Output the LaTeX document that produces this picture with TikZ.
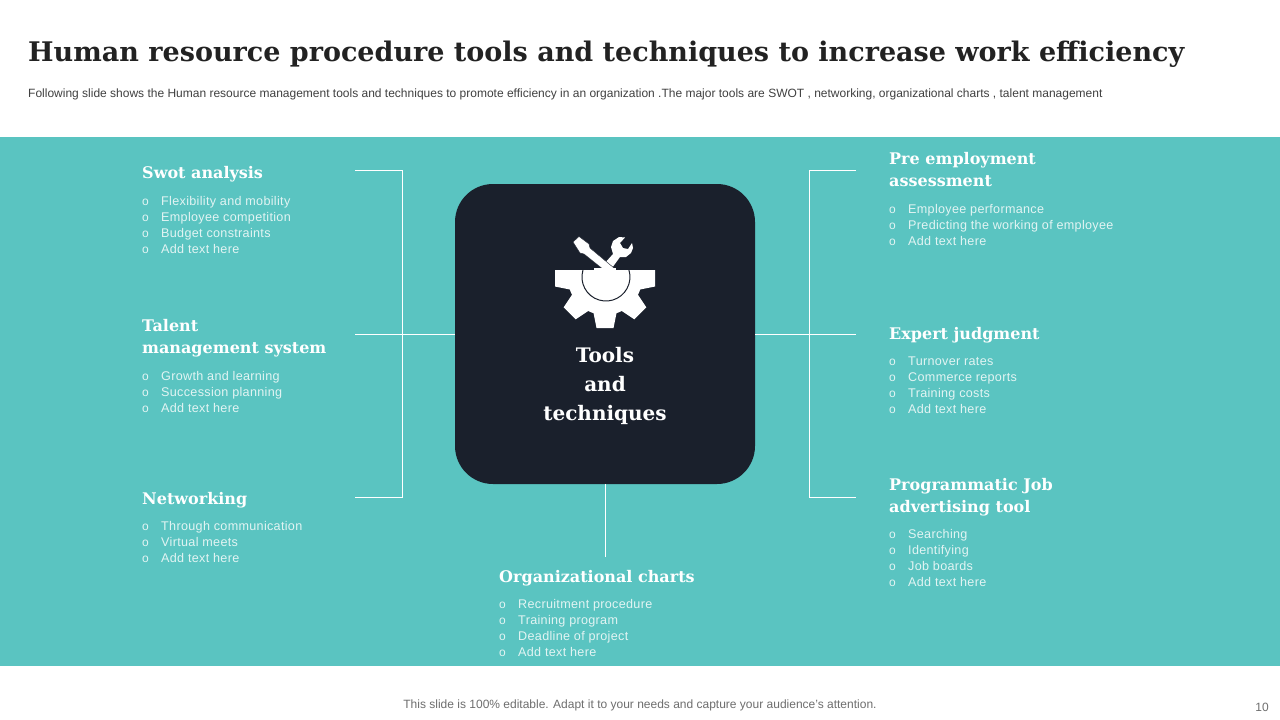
\documentclass[tikz,border=0pt]{standalone}
\usepackage{fontspec}
\setmainfont{Liberation Sans}
\newfontfamily\headfont{DejaVu Serif}
\newfontfamily\itemfont[LetterSpace=2.5]{Liberation Sans}
\usetikzlibrary{calc}
\definecolor{teal1}{HTML}{5AC4C1}
\definecolor{navy1}{HTML}{1A202C}
\definecolor{bul}{HTML}{E2F4F3}
\definecolor{titlec}{HTML}{222222}
\definecolor{subc}{HTML}{404040}
\definecolor{footc}{HTML}{6E6E6E}
\newcommand{\itm}[1]{\makebox[19pt][l]{\fontsize{12}{16}\selectfont o}#1\\}
\tikzset{
 head/.style={anchor=base west,inner sep=0pt,text=white,font=\headfont\bfseries\fontsize{16}{22}\selectfont,align=left},
 items/.style={anchor=north west,inner sep=0pt,text=bul,font=\itemfont\fontsize{12.6}{16}\selectfont,align=left},
 lnk/.style={draw=white,line width=0.7pt}}
\begin{document}
\begin{tikzpicture}[x=1pt,y=-1pt]
\useasboundingbox (0,0) rectangle (1280,720);
\fill[white] (0,0) rectangle (1280,720);
\node[anchor=base west,inner sep=0pt,text=titlec,font=\headfont\bfseries\fontsize{27}{30}\selectfont] (title) at (28,61) {Human resource procedure tools and techniques to increase work efficiency};
\node[anchor=base west,inner sep=0pt,text=subc,font=\fontsize{12}{14}\selectfont] (sub) at (28,97) {Following slide shows the Human resource management tools and techniques to promote efficiency in an organization .The major tools are SWOT , networking, organizational charts , talent management};
\fill[teal1] (0,137) rectangle (1280,666);
\node[draw=none,fill=navy1,rounded corners=38pt,minimum width=300pt,minimum height=300pt,inner sep=0pt] (core) at (605,334) {};
% connectors
\coordinate (l1) at (355,170); \coordinate (l1b) at (402,170);
\coordinate (l2) at (355,334);
\coordinate (l3) at (355,497); \coordinate (l3b) at (402,497);
\coordinate (r1) at (856,170); \coordinate (r1b) at (809,170);
\coordinate (r2) at (856,334);
\coordinate (r3) at (856,497); \coordinate (r3b) at (809,497);
\coordinate (b1) at (605,557);
\draw[lnk] (l1) -- (l1b) -- (l3b) -- (l3);
\draw[lnk] (l2) -- (core.west);
\draw[lnk] (r1) -- (r1b) -- (r3b) -- (r3);
\draw[lnk] (r2) -- (core.east);
\draw[lnk] (core.south) -- (b1);
% icon: gear
\begin{scope}
\clip (540,270) rectangle (670,335);
\fill[white] (605,278) circle (37);
\foreach \a in {0,45,...,315}{
 \fill[white,shift={(605,278)},rotate=\a] (30,-12.5) -- (50,-8.5) -- (50,8.5) -- (30,12.5) -- cycle;
}
\end{scope}
\draw[navy1,line width=1pt] (583,270) arc[start angle=197,end angle=-17,radius=24];
% wrench
\fill[white] (604,264) -- (613,254) -- (611,247) -- (613,241) -- (619,237) -- (625,237.5) -- (620,243) -- (623,248) -- (628,249) -- (632,243) -- (633,248) -- (631,253) -- (626,257) -- (620,257) -- (612,268) -- cycle;
% screwdriver
\fill[white,draw=navy1,line width=0.4pt] (573,242) -- (579,236.5) -- (589,244) -- (590,248) -- (614,268) -- (604,270) -- (584,254) -- (580,253) -- cycle;
\fill[white] (594,267.5) rectangle (616,270.5);
\node[inner sep=0pt,text=white,align=center,font=\headfont\bfseries\fontsize{20}{29}\selectfont] (ctitle) at (605,386) {Tools\\and\\techniques};
% left
\node[head] (h1) at (142,178) {Swot analysis};
\node[items] (i1) at (142,196) {\itm{Flexibility and mobility}\itm{Employee competition}\itm{Budget constraints}\itm{Add text here}};
\node[head] (h2) at (142,353) {Talent\\management system};
\node[items] (i2) at (142,371) {\itm{Growth and learning}\itm{Succession planning}\itm{Add text here}};
\node[head] (h3) at (142,504) {Networking};
\node[items] (i3) at (142,521) {\itm{Through communication}\itm{Virtual meets}\itm{Add text here}};
% right
\node[head] (h4) at (889,186) {Pre employment\\assessment};
\node[items] (i4) at (889,204) {\itm{Employee performance}\itm{Predicting the working of employee}\itm{Add text here}};
\node[head] (h5) at (889,339) {Expert judgment};
\node[items] (i5) at (889,357) {\itm{Turnover rates}\itm{Commerce reports}\itm{Training costs}\itm{Add text here}};
\node[head] (h6) at (889,512) {Programmatic Job\\advertising tool};
\node[items] (i6) at (889,529) {\itm{Searching}\itm{Identifying}\itm{Job boards}\itm{Add text here}};
% bottom
\node[head] (h7) at (499,582) {Organizational charts};
\node[items] (i7) at (499,599) {\itm{Recruitment procedure}\itm{Training program}\itm{Deadline of project}\itm{Add text here}};
% footer
\node[anchor=base,inner sep=0pt,text=footc,font=\fontsize{12}{14}\selectfont] (foot) at (640,708) {This slide is 100\% editable. Adapt it to your needs and capture your audience's attention.};
\node[anchor=base,inner sep=0pt,text=footc,font=\fontsize{12}{14}\selectfont] (page) at (1262,711) {10};
\end{tikzpicture}
\end{document}
